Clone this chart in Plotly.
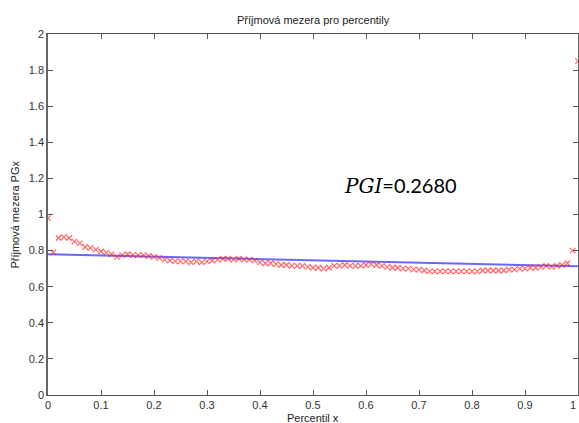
import plotly.graph_objects as go

# Data
percentiles = [i / 100 for i in range(101)]
pg_values = [
    0.98, 0.79, 0.87, 0.875, 0.87, 0.85, 0.84, 0.82, 0.815, 0.805,
    0.795, 0.79, 0.78, 0.765, 0.775, 0.78, 0.775, 0.775, 0.775, 0.77,
    0.765, 0.76, 0.75, 0.745, 0.74, 0.74, 0.74, 0.735, 0.74, 0.735,
    0.74, 0.745, 0.75, 0.755, 0.755, 0.75, 0.755, 0.75, 0.75, 0.745,
    0.735, 0.73, 0.73, 0.725, 0.72, 0.72, 0.715, 0.715, 0.715, 0.71,
    0.705, 0.705, 0.70, 0.705, 0.715, 0.715, 0.72, 0.715, 0.715, 0.715,
    0.72, 0.725, 0.72, 0.715, 0.71, 0.705, 0.705, 0.70, 0.70, 0.695,
    0.695, 0.69, 0.685, 0.685, 0.685, 0.685, 0.685, 0.685, 0.685, 0.685,
    0.685, 0.685, 0.69, 0.69, 0.69, 0.69, 0.69, 0.695, 0.695, 0.70,
    0.70, 0.705, 0.705, 0.71, 0.715, 0.71, 0.715, 0.72, 0.73, 0.80,
    1.85,
]
trend_x = [0.0, 1.0]
trend_y = [0.78, 0.713]

title_text = "Příjmová mezera pro percentily"
x_title = "Percentil x"
y_title = "Příjmová mezera PGx"
x_ticks = [0, 0.1, 0.2, 0.3, 0.4, 0.5, 0.6, 0.7, 0.8, 0.9, 1]
y_ticks = [0, 0.2, 0.4, 0.6, 0.8, 1, 1.2, 1.4, 1.6, 1.8, 2]

fig = go.Figure()
fig.add_trace(go.Scatter(
    x=trend_x, y=trend_y, mode="lines",
    line=dict(color="rgba(40,40,255,0.7)", width=2),
    showlegend=False,
))
fig.add_trace(go.Scatter(
    x=percentiles, y=pg_values, mode="markers",
    marker=dict(symbol="x-thin", size=5.5, line=dict(color="rgba(255,40,40,0.7)", width=1.2)),
    showlegend=False,
))

axis_font = dict(family="Liberation Sans, Arial", size=11, color="#333")
fig.update_xaxes(
    range=[0, 1], tickvals=x_ticks, ticktext=[("%g" % v) for v in x_ticks],
    ticks="inside", ticklen=5, tickcolor="#555", mirror="ticks",
    showline=True, linecolor="#555", linewidth=1, showgrid=False, zeroline=False,
    tickfont=axis_font, automargin=False,
)
fig.update_yaxes(
    range=[0, 2], tickvals=y_ticks, ticktext=[("%g" % v) for v in y_ticks],
    ticks="inside", ticklen=5, tickcolor="#555", mirror="ticks",
    showline=True, linecolor="#666", linewidth=1.5, showgrid=False, zeroline=False,
    tickfont=axis_font, automargin=False,
)

fig.update_layout(
    width=579, height=423,
    margin=dict(l=48, r=1, t=34, b=28),
    paper_bgcolor="white", plot_bgcolor="white",
    annotations=[
        dict(text=title_text, x=0.5, y=1, xref="paper", yref="paper",
             yanchor="bottom", yshift=6, showarrow=False,
             font=dict(family="Liberation Sans, Arial", size=11, color="#222")),
        dict(text=x_title, x=0.5, y=-0.063, xref="paper", yref="paper",
             yanchor="middle", showarrow=False,
             font=dict(family="Liberation Sans, Arial", size=11, color="#222")),
        dict(text=y_title, x=-0.064, y=0.5, xref="paper", yref="paper",
             xanchor="center", yanchor="middle", textangle=-90, showarrow=False,
             font=dict(family="Liberation Sans, Arial", size=11, color="#222")),
        dict(text=("%g" % x_ticks[-1]), x=x_ticks[-1], y=0, xref="x", yref="paper",
             xanchor="right", yanchor="top", yshift=-2, showarrow=False,
             font=axis_font),
        dict(text='<span style="font-family:DejaVu Serif"><i>PGI</i></span>=0.2680',
             x=0.555, y=1.16, xref="x", yref="y", xanchor="left", yanchor="middle",
             showarrow=False,
             font=dict(family="Lato, Open Sans", size=20, color="black")),
    ],
)

fig.write_html("out.html")
